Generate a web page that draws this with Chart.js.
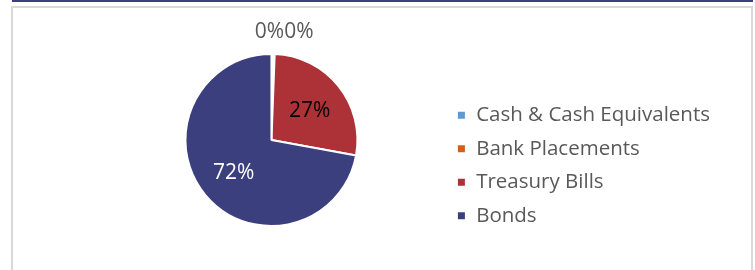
<!DOCTYPE html>
<html>
<head>
<meta charset="utf-8">
<script src="https://cdn.jsdelivr.net/npm/chart.js@4.4.1/dist/chart.umd.min.js"></script>
<style>
  body { margin: 0; background: #fff; }
  #topbar { position: absolute; left: 12px; top: 0; width: 741px; height: 2px; background: #3b3f7e; }
  #frame { position: absolute; left: 11px; top: 6px; width: 738px; height: 270px;
           border: 2px solid #d9d9d9; border-bottom: none; }
  #wrap { position: relative; width: 738px; height: 262px; }
</style>
</head>
<body>
<div id="topbar"></div>
<div id="frame">
  <div id="wrap"><canvas id="allocChart"></canvas></div>
</div>
<script>
var labels = ["Cash & Cash Equivalents", "Bank Placements", "Treasury Bills", "Bonds"];
var shares = [0.3, 0.3, 27.3, 72.1];
var shareLabels = ["0%", "0%", "27%", "72%"];
var sliceColors = ["#5b9bd5", "#d0601b", "#ad3237", "#3b3f7e"];
var labelColors = ["#595959", "#595959", "#000000", "#ffffff"];

Chart.defaults.font.family = "'Open Sans', sans-serif";

// percentage labels: inside for big slices, side by side above the pie for tiny ones
var sliceLabels = {
  id: "sliceLabels",
  afterDatasetsDraw: function (chart) {
    var ctx = chart.ctx;
    var arcs = chart.getDatasetMeta(0).data;
    var prevRight = null;
    ctx.save();
    ctx.font = "21px 'Open Sans', sans-serif";
    ctx.textBaseline = "middle";
    ctx.textAlign = "center";
    for (var i = 0; i < arcs.length; i++) {
      var a = arcs[i];
      var mid = (a.startAngle + a.endAngle) / 2;
      var txt = shareLabels[i];
      var w = ctx.measureText(txt).width;
      var x, y;
      if (shares[i] < 2) {
        x = a.x + Math.cos(mid) * (a.outerRadius + 22) - 3;
        y = a.y + Math.sin(mid) * (a.outerRadius + 22);
        if (prevRight !== null && x - w / 2 < prevRight) x = prevRight + w / 2;
        prevRight = x + w / 2;
      } else {
        x = a.x + Math.cos(mid) * a.outerRadius * 0.57;
        y = a.y + Math.sin(mid) * a.outerRadius * 0.57 + 2;
      }
      ctx.fillStyle = labelColors[i];
      ctx.fillText(txt, x, y);
    }
    ctx.restore();
  }
};

var ctx = document.getElementById("allocChart").getContext("2d");
var myChart = new Chart(ctx, {
  type: "pie",
  data: {
    labels: labels,
    datasets: [
      {
        data: shares,
        backgroundColor: sliceColors,
        borderColor: "#ffffff",
        borderWidth: 2,
        radius: 86,
      },
    ],
  },
  options: {
    responsive: true,
    maintainAspectRatio: false,
    animation: false,
    layout: {
      padding: { left: 86, right: 31, top: 10, bottom: 8 },
    },
    plugins: {
      tooltip: { enabled: false },
      legend: {
        position: "right",
        align: "start",
        title: {
          display: true,
          text: "",
          font: { size: 10, lineHeight: 1 },
          padding: { top: 64, bottom: 0 },
        },
        labels: {
          boxWidth: 9,
          boxHeight: 9,
          padding: 13,
          color: "#595959",
          font: { size: 20.5 },
        },
      },
    },
  },
  plugins: [sliceLabels],
});
</script>
</body>
</html>
